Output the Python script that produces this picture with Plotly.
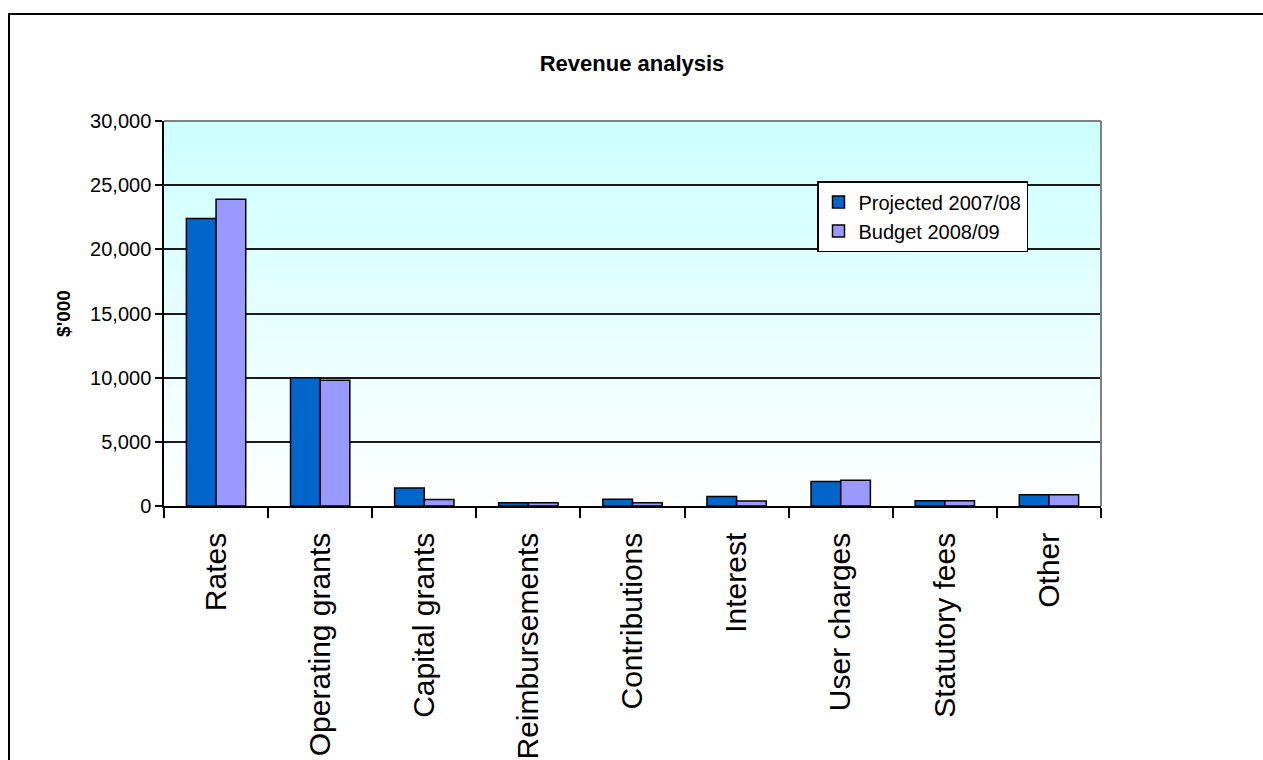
import plotly.graph_objects as go

categories = ["Rates", "Operating grants", "Capital grants", "Reimbursements",
              "Contributions", "Interest", "User charges", "Statutory fees", "Other"]
projected_2007_08 = [22400, 10000, 1400, 250, 520, 750, 1900, 400, 880]
budget_2008_09 = [23900, 9800, 500, 250, 250, 380, 2000, 400, 880]
y_ticks = [0, 5000, 10000, 15000, 20000, 25000, 30000]

W, H = 1263, 760
L, R, T, B = 164, 162, 121, 254
pw, ph = W - L - R, H - T - B

FONT = "Arial, 'Liberation Sans', sans-serif"

fig = go.Figure()
fig.add_trace(go.Bar(x=categories, y=projected_2007_08, name="Projected 2007/08",
                     marker=dict(color="#0066CC", line=dict(color="#000000", width=1.5))))
fig.add_trace(go.Bar(x=categories, y=budget_2008_09, name="Budget 2008/09",
                     marker=dict(color="#9999FF", line=dict(color="#000000", width=1.5))))

shapes = []
# gradient background of plot area (cyan at top -> white at bottom)
N = 80
top = (204, 255, 255)
for i in range(N):
    f0 = i / N
    f1 = (i + 1) / N
    t = (f0 + f1) / 2
    c = tuple(round(255 + (tc - 255) * t) for tc in top)
    shapes.append(dict(type="rect", xref="x domain", yref="y domain",
                       x0=0, x1=1, y0=f0, y1=f1 + 0.002, layer="below",
                       fillcolor="rgb(%d,%d,%d)" % c, line=dict(width=0)))
# gray top and right plot border
shapes.append(dict(type="line", xref="x domain", yref="y domain", x0=0, x1=1, y0=1, y1=1,
                   line=dict(color="#808080", width=2), layer="above"))
shapes.append(dict(type="line", xref="x domain", yref="y domain", x0=1, x1=1, y0=0, y1=1,
                   line=dict(color="#808080", width=2), layer="above"))
# outer chart frame
fx0 = (9 - L) / pw
fy1 = (H - B - 14) / ph
shapes.append(dict(type="rect", xref="paper", yref="paper", x0=fx0, x1=(W + 20 - L) / pw,
                   y0=-(B + 20) / ph, y1=fy1, line=dict(color="#000000", width=2),
                   fillcolor="rgba(0,0,0,0)", layer="below"))

fig.update_layout(
    width=W, height=H,
    margin=dict(l=L, r=R, t=T, b=B, autoexpand=False),
    paper_bgcolor="white", plot_bgcolor="white",
    font=dict(family=FONT, color="#000000"),
    barmode="group", bargap=0.43, bargroupgap=0,
    title=dict(text="<b>Revenue analysis</b>", x=(632 - L) / pw, xref="paper", xanchor="center",
               y=1 - 63 / H, yanchor="middle", font=dict(size=22, family=FONT)),
    showlegend=True,
    legend=dict(x=(817 - L) / pw, y=(H - B - 181) / ph, xanchor="left", yanchor="top",
                bgcolor="white", bordercolor="#000000", borderwidth=1.5,
                font=dict(size=20, family=FONT), tracegroupgap=0),
    shapes=shapes,
)
fig.update_xaxes(
    type="category", showgrid=False, showline=True, linecolor="#000000", linewidth=1.5,
    ticks="outside", tickson="boundaries", ticklen=10, tickwidth=1.5, tickcolor="#000000",
    tickangle=-90, tickfont=dict(size=30, family=FONT), ticklabelstandoff=13,
)
fig.update_yaxes(
    range=[0, 30000], tickvals=y_ticks, tickformat=",", showgrid=True, gridcolor="#1a1a1a",
    gridwidth=1.5, showline=True, linecolor="#000000", linewidth=1.5, zeroline=False,
    ticks="outside", ticklen=7, tickwidth=1.5, tickcolor="#000000",
    tickfont=dict(size=20, family=FONT),
    title=dict(text="<b>$'000</b>", font=dict(size=19, family=FONT), standoff=14),
)

fig.write_html("out.html")
